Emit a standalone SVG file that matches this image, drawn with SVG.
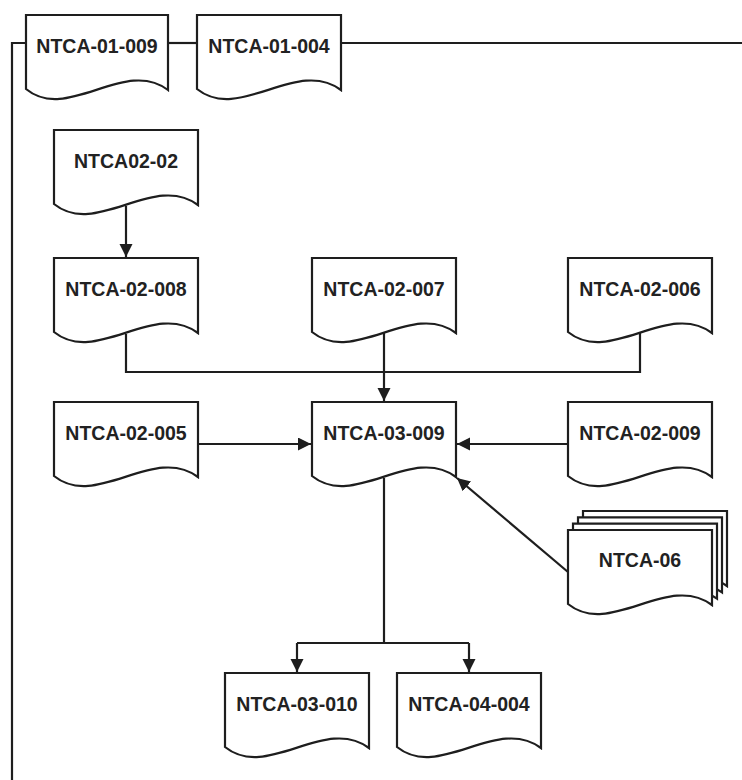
<svg xmlns="http://www.w3.org/2000/svg" width="742" height="780" viewBox="0 0 742 780">
<defs>
<style>
.doc{fill:#fff;stroke:#1e1e1e;stroke-width:2.2}
.lbl{font-family:"Liberation Sans",Arial,sans-serif;font-weight:bold;font-size:19.5px;fill:#222;text-anchor:middle}
.con{fill:none;stroke:#1e1e1e;stroke-width:2.2}
</style>
<path id="docshape" d="M0,0 H144 V75 C100,42 42,108 0,74 Z"/>
<path id="docshape142" d="M0,0 H142 V75 C99,42 41,108 0,74 Z"/>
<marker id="arr" markerUnits="userSpaceOnUse" markerWidth="14" markerHeight="14" refX="13" refY="6.5" orient="auto">
<path d="M0,0 L13,6.5 L0,13 Z" fill="#1e1e1e"/>
</marker>
</defs>
<rect width="742" height="780" fill="#fff"/>
<g id="connectors">
<path class="con" d="M742,43 H340"/>
<path class="con" d="M197,43 H168"/>
<path class="con" d="M26,43 H12 V780"/>
<path class="con" d="M126,206 V257" marker-end="url(#arr)"/>
<path class="con" d="M126,334 V372 H640 V333"/>
<path class="con" d="M384,333 V401" marker-end="url(#arr)"/>
<path class="con" d="M198,444 H311" marker-end="url(#arr)"/>
<path class="con" d="M568,444 H457" marker-end="url(#arr)"/>
<path class="con" d="M568,572 L457,478" marker-end="url(#arr)"/>
<path class="con" d="M384,478 V643"/>
<path class="con" d="M297,643 H469"/>
<path class="con" d="M297,643 V672" marker-end="url(#arr)"/>
<path class="con" d="M469,643 V672" marker-end="url(#arr)"/>
</g>
<g id="n0109"><use href="#docshape142" class="doc" x="26" y="15"/><text class="lbl" x="97" y="53">NTCA-01-009</text></g>
<g id="n0104"><use href="#docshape" class="doc" x="197" y="15"/><text class="lbl" x="269" y="53">NTCA-01-004</text></g>
<g id="n0202"><use href="#docshape" class="doc" x="54" y="130"/><text class="lbl" x="126" y="168">NTCA02-02</text></g>
<g id="n02008"><use href="#docshape" class="doc" x="54" y="258"/><text class="lbl" x="126" y="296">NTCA-02-008</text></g>
<g id="n02007"><use href="#docshape" class="doc" x="312" y="258"/><text class="lbl" x="384" y="296">NTCA-02-007</text></g>
<g id="n02006"><use href="#docshape" class="doc" x="568" y="258"/><text class="lbl" x="640" y="296">NTCA-02-006</text></g>
<g id="n02005"><use href="#docshape" class="doc" x="54" y="402"/><text class="lbl" x="126" y="440">NTCA-02-005</text></g>
<g id="n03009"><use href="#docshape" class="doc" x="312" y="402"/><text class="lbl" x="384" y="440">NTCA-03-009</text></g>
<g id="n02009"><use href="#docshape" class="doc" x="568" y="402"/><text class="lbl" x="640" y="440">NTCA-02-009</text></g>
<g id="n06">
<use href="#docshape" class="doc" x="583" y="511"/>
<use href="#docshape" class="doc" x="578" y="517.3"/>
<use href="#docshape" class="doc" x="573" y="523.6"/>
<use href="#docshape" class="doc" x="568" y="530"/>
<text class="lbl" x="640" y="567">NTCA-06</text>
</g>
<g id="n03010"><use href="#docshape" class="doc" x="225" y="673"/><text class="lbl" x="297" y="711">NTCA-03-010</text></g>
<g id="n04004"><use href="#docshape" class="doc" x="397" y="673"/><text class="lbl" x="469" y="711">NTCA-04-004</text></g>
</svg>
